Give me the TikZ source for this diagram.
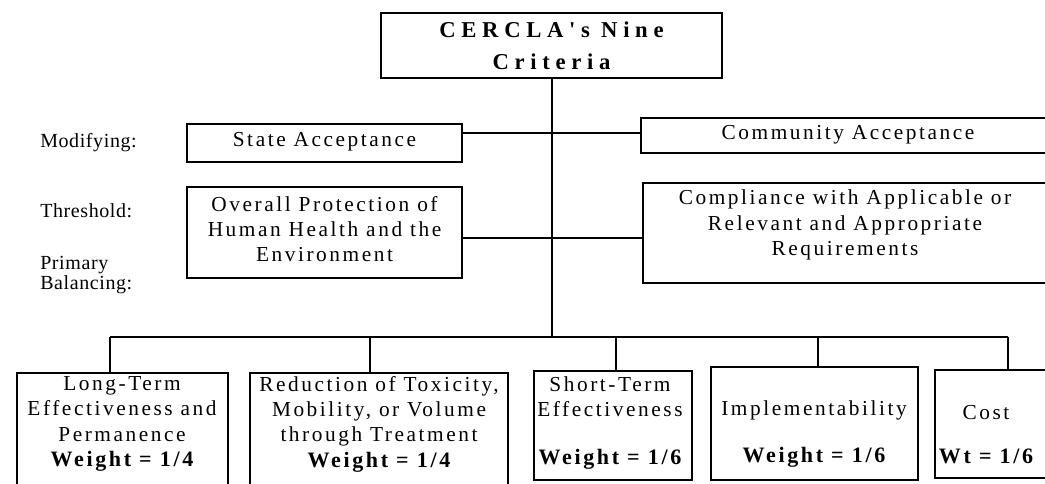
\documentclass[tikz,border=0pt]{standalone}
\usepackage{fontspec}
\setmainfont{Liberation Serif}[LetterSpace=12]
\newfontfamily\titlefont{Liberation Serif}[LetterSpace=25]
\newfontfamily\rowfont{Liberation Serif}[LetterSpace=3]
\newcommand{\wgt}[1]{{\bfseries\fontsize{16.5pt}{19pt}\selectfont #1}}
\begin{document}
\begin{tikzpicture}[x=0.75pt,y=-0.75pt,
  box/.style={draw=black,line width=1.5pt,inner sep=0pt,fill=none},
  link/.style={draw=black,line width=1.5pt},
  txt/.style={font=\fontsize{16pt}{19pt}\selectfont,align=center,inner sep=0pt},
  ttl/.style={font=\titlefont\fontsize{17pt}{24pt}\selectfont\bfseries,align=center,inner sep=0pt},
  lbl/.style={font=\rowfont\fontsize{15pt}{13.5pt}\selectfont,align=left,inner sep=0pt,anchor=west}]
\useasboundingbox (0,0) rectangle (1045,483);
\clip (0,0) rectangle (1045,483);

% boxes
\node[box,minimum width=341*0.75pt,minimum height=65*0.75pt] (top) at (551.5,45.5) {};
\node[box,minimum width=275*0.75pt,minimum height=38*0.75pt] (state) at (324.5,143) {};
\node[box,minimum width=409*0.75pt,minimum height=35*0.75pt] (comm) at (845.5,135.5) {};
\node[box,minimum width=275*0.75pt,minimum height=91*0.75pt] (overall) at (324.5,232.5) {};
\node[box,minimum width=407*0.75pt,minimum height=100*0.75pt] (arar) at (846.5,233) {};
\node[box,minimum width=211*0.75pt,minimum height=117*0.75pt] (lt) at (122.5,431.5) {};
\node[box,minimum width=258*0.75pt,minimum height=117*0.75pt] (red) at (379,431.5) {};
\node[box,minimum width=158*0.75pt,minimum height=109*0.75pt] (st) at (613,425.5) {};
\node[box,minimum width=207*0.75pt,minimum height=113*0.75pt] (impl) at (814.5,423.5) {};
\node[box,minimum width=115*0.75pt,minimum height=108*0.75pt] (cost) at (992.5,424) {};

% texts
\node[ttl] (top-t) at (551.5,46) {CERCLA's Nine\\Criteria};
\node[txt] (state-t) at (324.5,142) {State Acceptance};
\node[txt] (comm-t) at (848,135) {Community Acceptance};
\node[txt] (overall-t) at (324.5,229) {Overall Protection of\\Human Health and the\\Environment};
\node[txt] (arar-t) at (845,225) {Compliance with Applicable or\\Relevant and Appropriate\\Requirements};
\node[txt] (lt-t) at (122,424) {Long-Term\\Effectiveness and\\Permanence\\\wgt{Weight = 1/4}};
\node[txt] (red-t) at (379,424) {Reduction of Toxicity,\\Mobility, or Volume\\through Treatment\\\wgt{Weight = 1/4}};
\node[txt] (st-t) at (610,423) {Short-Term\\Effectiveness\\[17pt]\wgt{Weight = 1/6}};
\node[txt] (impl-t) at (814,434) {Implementability\\[16pt]\wgt{Weight = 1/6}};
\node[txt] (cost-t) at (986,435) {Cost\\[14pt]\wgt{Wt = 1/6}};

% row labels
\node[lbl] (mod) at (40,143) {Modifying:};
\node[lbl] (thr) at (40,211) {Threshold:};
\node[lbl] (pri) at (40,275) {Primary\\Balancing:};

% connectors
\coordinate (hub) at (top.south |- 0,337);
\draw[link] (top.south) -- (hub);
\draw[link] (state.east |- 0,133) -- (comm.west |- 0,133);
\draw[link] (overall.east |- 0,238) -- (arar.west |- 0,238);
\coordinate (busL) at (110,337);
\coordinate (busR) at (1008,337);
\draw[link] (busL) -- (busR);
\draw[link] (busL) -- (busL |- lt.north);
\draw[link] (370,337) -- (370,0 |- red.north);
\draw[link] (616,337) -- (616,0 |- st.north);
\draw[link] (818,337) -- (818,0 |- impl.north);
\draw[link] (busR) -- (busR |- cost.north);
\end{tikzpicture}
\end{document}
